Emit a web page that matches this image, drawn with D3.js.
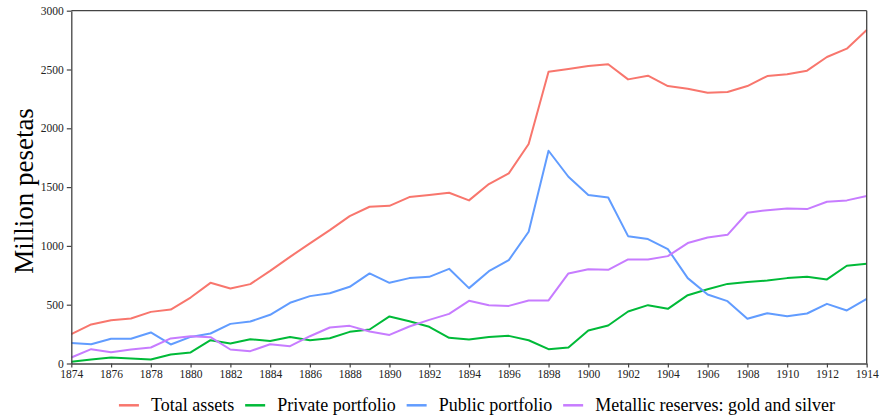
<!DOCTYPE html>
<html>
<head>
<meta charset="utf-8">
<script src="https://cdn.jsdelivr.net/npm/d3@7"></script>
<style>
  body { margin: 0; background: #fff; }
  text { font-family: "Liberation Serif", "Times New Roman", serif; }
</style>
</head>
<body>
<div id="chart"></div>
<script>
var years = d3.range(1874, 1915);

var totalAssets = [250, 332, 368, 383, 439, 459, 561, 686, 638, 675, 788, 907, 1021, 1134, 1253, 1333, 1341, 1415, 1432, 1452, 1387, 1526, 1617, 1866, 2481, 2504, 2530, 2544, 2416, 2447, 2359, 2337, 2303, 2308, 2359, 2444, 2459, 2490, 2606, 2677, 2836];
var privatePortfolio = [14, 34, 51, 43, 34, 77, 94, 198, 170, 207, 192, 226, 198, 215, 269, 289, 400, 360, 312, 218, 204, 226, 235, 198, 122, 136, 281, 323, 442, 496, 465, 581, 632, 677, 692, 706, 726, 737, 715, 831, 848];
var publicPortfolio = [175, 164, 210, 210, 264, 162, 226, 255, 337, 357, 414, 516, 573, 598, 652, 766, 686, 726, 737, 805, 641, 785, 879, 1120, 1809, 1588, 1432, 1412, 1083, 1058, 973, 726, 587, 530, 380, 428, 402, 425, 507, 451, 550];
var metallicReserves = [51, 122, 96, 120, 136, 213, 232, 224, 119, 105, 164, 147, 232, 306, 320, 272, 243, 315, 371, 422, 533, 496, 490, 536, 536, 766, 802, 797, 885, 885, 913, 1024, 1072, 1094, 1282, 1304, 1319, 1313, 1375, 1387, 1424];

var seriesNames = ["Total assets", "Private portfolio", "Public portfolio", "Metallic reserves: gold and silver"];
var seriesColors = ["#F8766D", "#00BA38", "#619CFF", "#C77CFF"];
var seriesValues = [totalAssets, privatePortfolio, publicPortfolio, metallicReserves];

var xTicks = d3.range(1874, 1915, 2);
var yTicks = [0, 500, 1000, 1500, 2000, 2500, 3000];

var svgWidth = 881;
var svgHeight = 419;
var margin = {top: 10.7, right: 14.3, bottom: 55.5, left: 71.3};
var width = svgWidth - margin.left - margin.right;
var height = svgHeight - margin.top - margin.bottom;

var svg = d3.select("#chart").append("svg")
    .attr("width", svgWidth)
    .attr("height", svgHeight);
var chart = svg.append("g")
    .attr("transform", "translate(" + margin.left + "," + margin.top + ")");

var x = d3.scaleLinear().domain([1874, 1914]).range([0, width]);
var y = d3.scaleLinear().domain([0, 3000]).range([height, 0]);

var line = d3.line()
    .x(function(d) { return x(d.year); })
    .y(function(d) { return y(d.value); });

seriesValues.forEach(function(vals, i) {
    var pts = years.map(function(yr, j) { return {year: yr, value: vals[j]}; });
    chart.append("path")
        .datum(pts)
        .attr("fill", "none")
        .attr("stroke", seriesColors[i])
        .attr("stroke-width", 2)
        .attr("stroke-linejoin", "round")
        .attr("d", line);
});

// frame: top and right
chart.append("line")
    .attr("x1", 0).attr("x2", width).attr("y1", 0).attr("y2", 0)
    .attr("stroke", "#444").attr("stroke-width", 1.3);
chart.append("line")
    .attr("x1", width).attr("x2", width).attr("y1", 0).attr("y2", height)
    .attr("stroke", "#444").attr("stroke-width", 1.3);

var xAxis = chart.append("g")
    .attr("transform", "translate(0," + height + ")")
    .call(d3.axisBottom(x).tickValues(xTicks).tickFormat(d3.format("d")).tickSize(4).tickSizeOuter(0));
var yAxis = chart.append("g")
    .call(d3.axisLeft(y).tickValues(yTicks).tickFormat(d3.format("d")).tickSize(4.5).tickSizeOuter(0));

[xAxis, yAxis].forEach(function(a) {
    a.attr("font-family", null).attr("font-size", null);
    a.select(".domain").attr("stroke", "#444").attr("stroke-width", 1.3);
    a.selectAll(".tick line").attr("stroke", "#444").attr("stroke-width", 1.2);
    a.selectAll(".tick text")
        .attr("fill", "#222")
        .style("font-size", "11.5px");
});
xAxis.selectAll(".tick text").attr("dy", "0.72em").attr("y", 6);
yAxis.selectAll(".tick text").attr("x", -7.5);

svg.append("text")
    .attr("transform", "translate(33,191) rotate(-90)")
    .attr("text-anchor", "middle")
    .style("font-size", "27px")
    .attr("fill", "#000")
    .text("Million pesetas");

// legend
var legend = svg.append("g");
var cursor = 0;
seriesNames.forEach(function(name, i) {
    var g = legend.append("g");
    g.append("line")
        .attr("x1", 0).attr("x2", 20)
        .attr("y1", 0).attr("y2", 0)
        .attr("stroke", seriesColors[i])
        .attr("stroke-width", 2.5);
    var t = g.append("text")
        .attr("x", 32).attr("y", 6)
        .style("font-size", "18px")
        .attr("fill", "#000")
        .text(name);
    var w = t.node().getComputedTextLength();
    g.attr("transform", "translate(" + cursor + ",0)");
    cursor += 32 + w + 11;
});
var total = cursor - 11;
legend.attr("transform", "translate(" + (477 - total / 2) + ",405.3)");
</script>
</body>
</html>
